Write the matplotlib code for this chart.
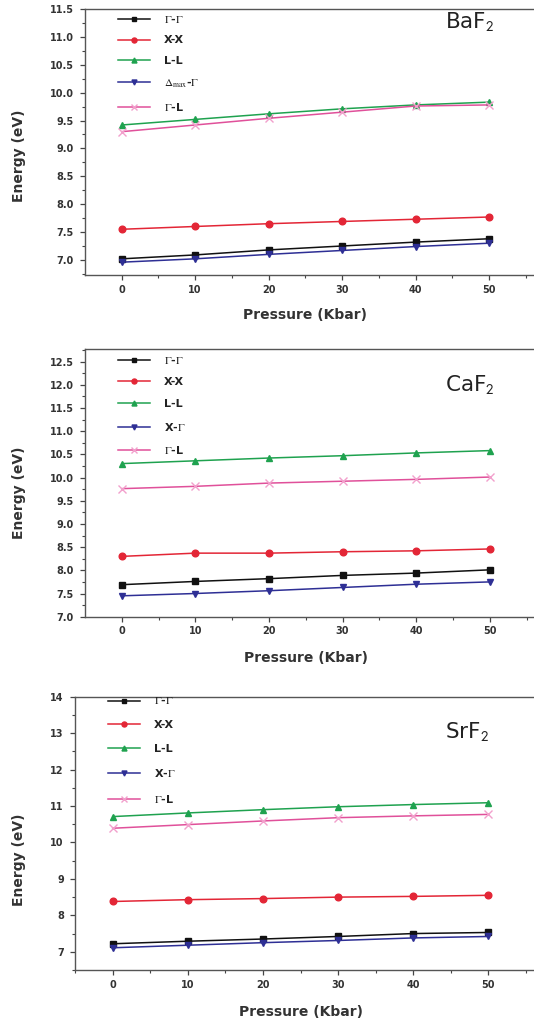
import matplotlib
matplotlib.use("Agg")
import matplotlib.pyplot as plt
from matplotlib.ticker import MultipleLocator, FormatStrFormatter

plt.rcParams['font.family'] = ['DejaVu Sans']
plt.rcParams['mathtext.fontset'] = 'stix'

pressure = [0, 10, 20, 30, 40, 50]

# BaF2
ba_GG = [7.02, 7.09, 7.18, 7.25, 7.32, 7.38]
ba_XX = [7.55, 7.60, 7.65, 7.69, 7.73, 7.77]
ba_LL = [9.42, 9.52, 9.62, 9.71, 9.78, 9.83]
ba_DG = [6.96, 7.02, 7.10, 7.17, 7.24, 7.30]
ba_GL = [9.30, 9.42, 9.54, 9.65, 9.76, 9.78]

# CaF2
ca_GG = [7.69, 7.76, 7.82, 7.89, 7.94, 8.01]
ca_XX = [8.30, 8.37, 8.37, 8.40, 8.42, 8.46]
ca_LL = [10.30, 10.36, 10.42, 10.47, 10.53, 10.58]
ca_XG = [7.45, 7.50, 7.56, 7.63, 7.70, 7.75]
ca_GL = [9.76, 9.81, 9.88, 9.92, 9.96, 10.01]

# SrF2
sr_GG = [7.22, 7.29, 7.35, 7.42, 7.50, 7.53]
sr_XX = [8.38, 8.43, 8.46, 8.50, 8.52, 8.55]
sr_LL = [10.71, 10.81, 10.90, 10.98, 11.04, 11.09]
sr_XG = [7.11, 7.18, 7.25, 7.31, 7.38, 7.42]
sr_GL = [10.39, 10.49, 10.59, 10.68, 10.73, 10.77]

labels_ba = [r'$\Gamma$-$\Gamma$', 'X-X', 'L-L', r'$\Delta_{\rm max}$-$\Gamma$', r'$\Gamma$-L']
labels_cs = [r'$\Gamma$-$\Gamma$', 'X-X', 'L-L', r'X-$\Gamma$', r'$\Gamma$-L']

colors = ['#111111', '#e32636', '#1fa24f', '#2e2f95', '#e0509a']
markers = ['s', 'o', '^', 'v', 'x']
mfc = ['#111111', '#e32636', '#1fa24f', '#2e2f95', '#f2a0cc']

W, H = 534, 1027
fig = plt.figure(figsize=(W / 100, H / 100), dpi=100)

panels = [
    dict(data=[ba_GG, ba_XX, ba_LL, ba_DG, ba_GL], labels=labels_ba, name=r'BaF$_{\mathsf{2}}$',
         left=85, top=9, bottom=275, x0=121.7, x50=489.0, ylim=(6.73, 11.5), major=0.5, minor=0.25,
         fmt='%.1f', name_base=28, leg_row1=20, leg_sp=0.98, xlab=(305, 315), ylab_y=156),
    dict(data=[ca_GG, ca_XX, ca_LL, ca_XG, ca_GL], labels=labels_cs, name=r'CaF$_{\mathsf{2}}$',
         left=85, top=349, bottom=616.7, x0=121.7, x50=489.7, ylim=(7.0, 12.77), major=0.5, minor=0.25,
         fmt='%.1f', name_base=390.5, leg_row1=361, leg_sp=1.05, xlab=(306, 657.7), ylab_y=493),
    dict(data=[sr_GG, sr_XX, sr_LL, sr_XG, sr_GL], labels=labels_cs, name=r'SrF$_{\mathsf{2}}$',
         left=75, top=696.7, bottom=970, x0=112.7, x50=488.3, ylim=(6.5, 14.0), major=1, minor=0.5,
         fmt='%d', name_base=738, leg_row1=702, leg_sp=1.22, xlab=(301, 1012), ylab_y=860),
]

for p in panels:
    ppu = (p['x50'] - p['x0']) / 50.0
    xmin = -(p['x0'] - p['left']) / ppu
    xmax = 57
    width_px = (xmax - xmin) * ppu
    height_px = p['bottom'] - p['top']
    ax = fig.add_axes([p['left'] / W, 1 - p['bottom'] / H, width_px / W, height_px / H])
    for d, lab, c, m, fc in zip(p['data'], p['labels'], colors, markers, mfc):
        ms = 4.8 if m != 'x' else 5.5
        ax.plot(pressure, d, color=c, marker=m, markersize=ms, markerfacecolor=fc,
                markeredgecolor=fc, markeredgewidth=1.0,
                linewidth=1.1, label=lab)
    ax.set_xlim(xmin, xmax)
    ax.set_ylim(*p['ylim'])
    ax.xaxis.set_major_locator(MultipleLocator(10))
    ax.xaxis.set_minor_locator(MultipleLocator(5))
    ax.yaxis.set_major_locator(MultipleLocator(p['major']))
    ax.yaxis.set_minor_locator(MultipleLocator(p['minor']))
    ax.yaxis.set_major_formatter(FormatStrFormatter(p['fmt']))
    ax.tick_params(which='major', direction='out', length=3.5, width=0.9, colors='#444444',
                   labelsize=7, labelcolor='#333333')
    ax.tick_params(axis='x', which='major', pad=3.5)
    ax.tick_params(axis='y', which='major', pad=4.5)
    ax.tick_params(which='minor', direction='out', length=2.0, width=0.8, colors='#444444')
    for lbl in ax.get_xticklabels() + ax.get_yticklabels():
        lbl.set_fontweight('bold')
    for s in ['left', 'bottom', 'top', 'right']:
        ax.spines[s].set_color('#555555')
        ax.spines[s].set_linewidth(1.0)

    hx = 33 / width_px
    hy = 1 - (p['leg_row1'] - 6.5 - p['top']) / height_px
    leg = ax.legend(loc='upper left', bbox_to_anchor=(hx, hy), frameon=False,
                    handlelength=2.9, handletextpad=1.2, labelspacing=p['leg_sp'],
                    borderaxespad=0.0, borderpad=0.0, markerscale=0.75,
                    prop={'weight': 'bold', 'size': 8})
    for t in leg.get_texts():
        t.set_color('#222222')

    fig.text(445 / W, 1 - p['name_base'] / H, p['name'], fontsize=15.5, color='#222222',
             ha='left', va='baseline')
    fig.text(p['xlab'][0] / W, 1 - p['xlab'][1] / H, 'Pressure (Kbar)', fontsize=10,
             fontweight='bold', color='#333333', ha='center', va='center')
    fig.text(19.5 / W, 1 - p['ylab_y'] / H, 'Energy (eV)', fontsize=10, rotation=90,
             fontweight='bold', color='#333333', ha='center', va='center')

fig.savefig('out.png', dpi=100)
